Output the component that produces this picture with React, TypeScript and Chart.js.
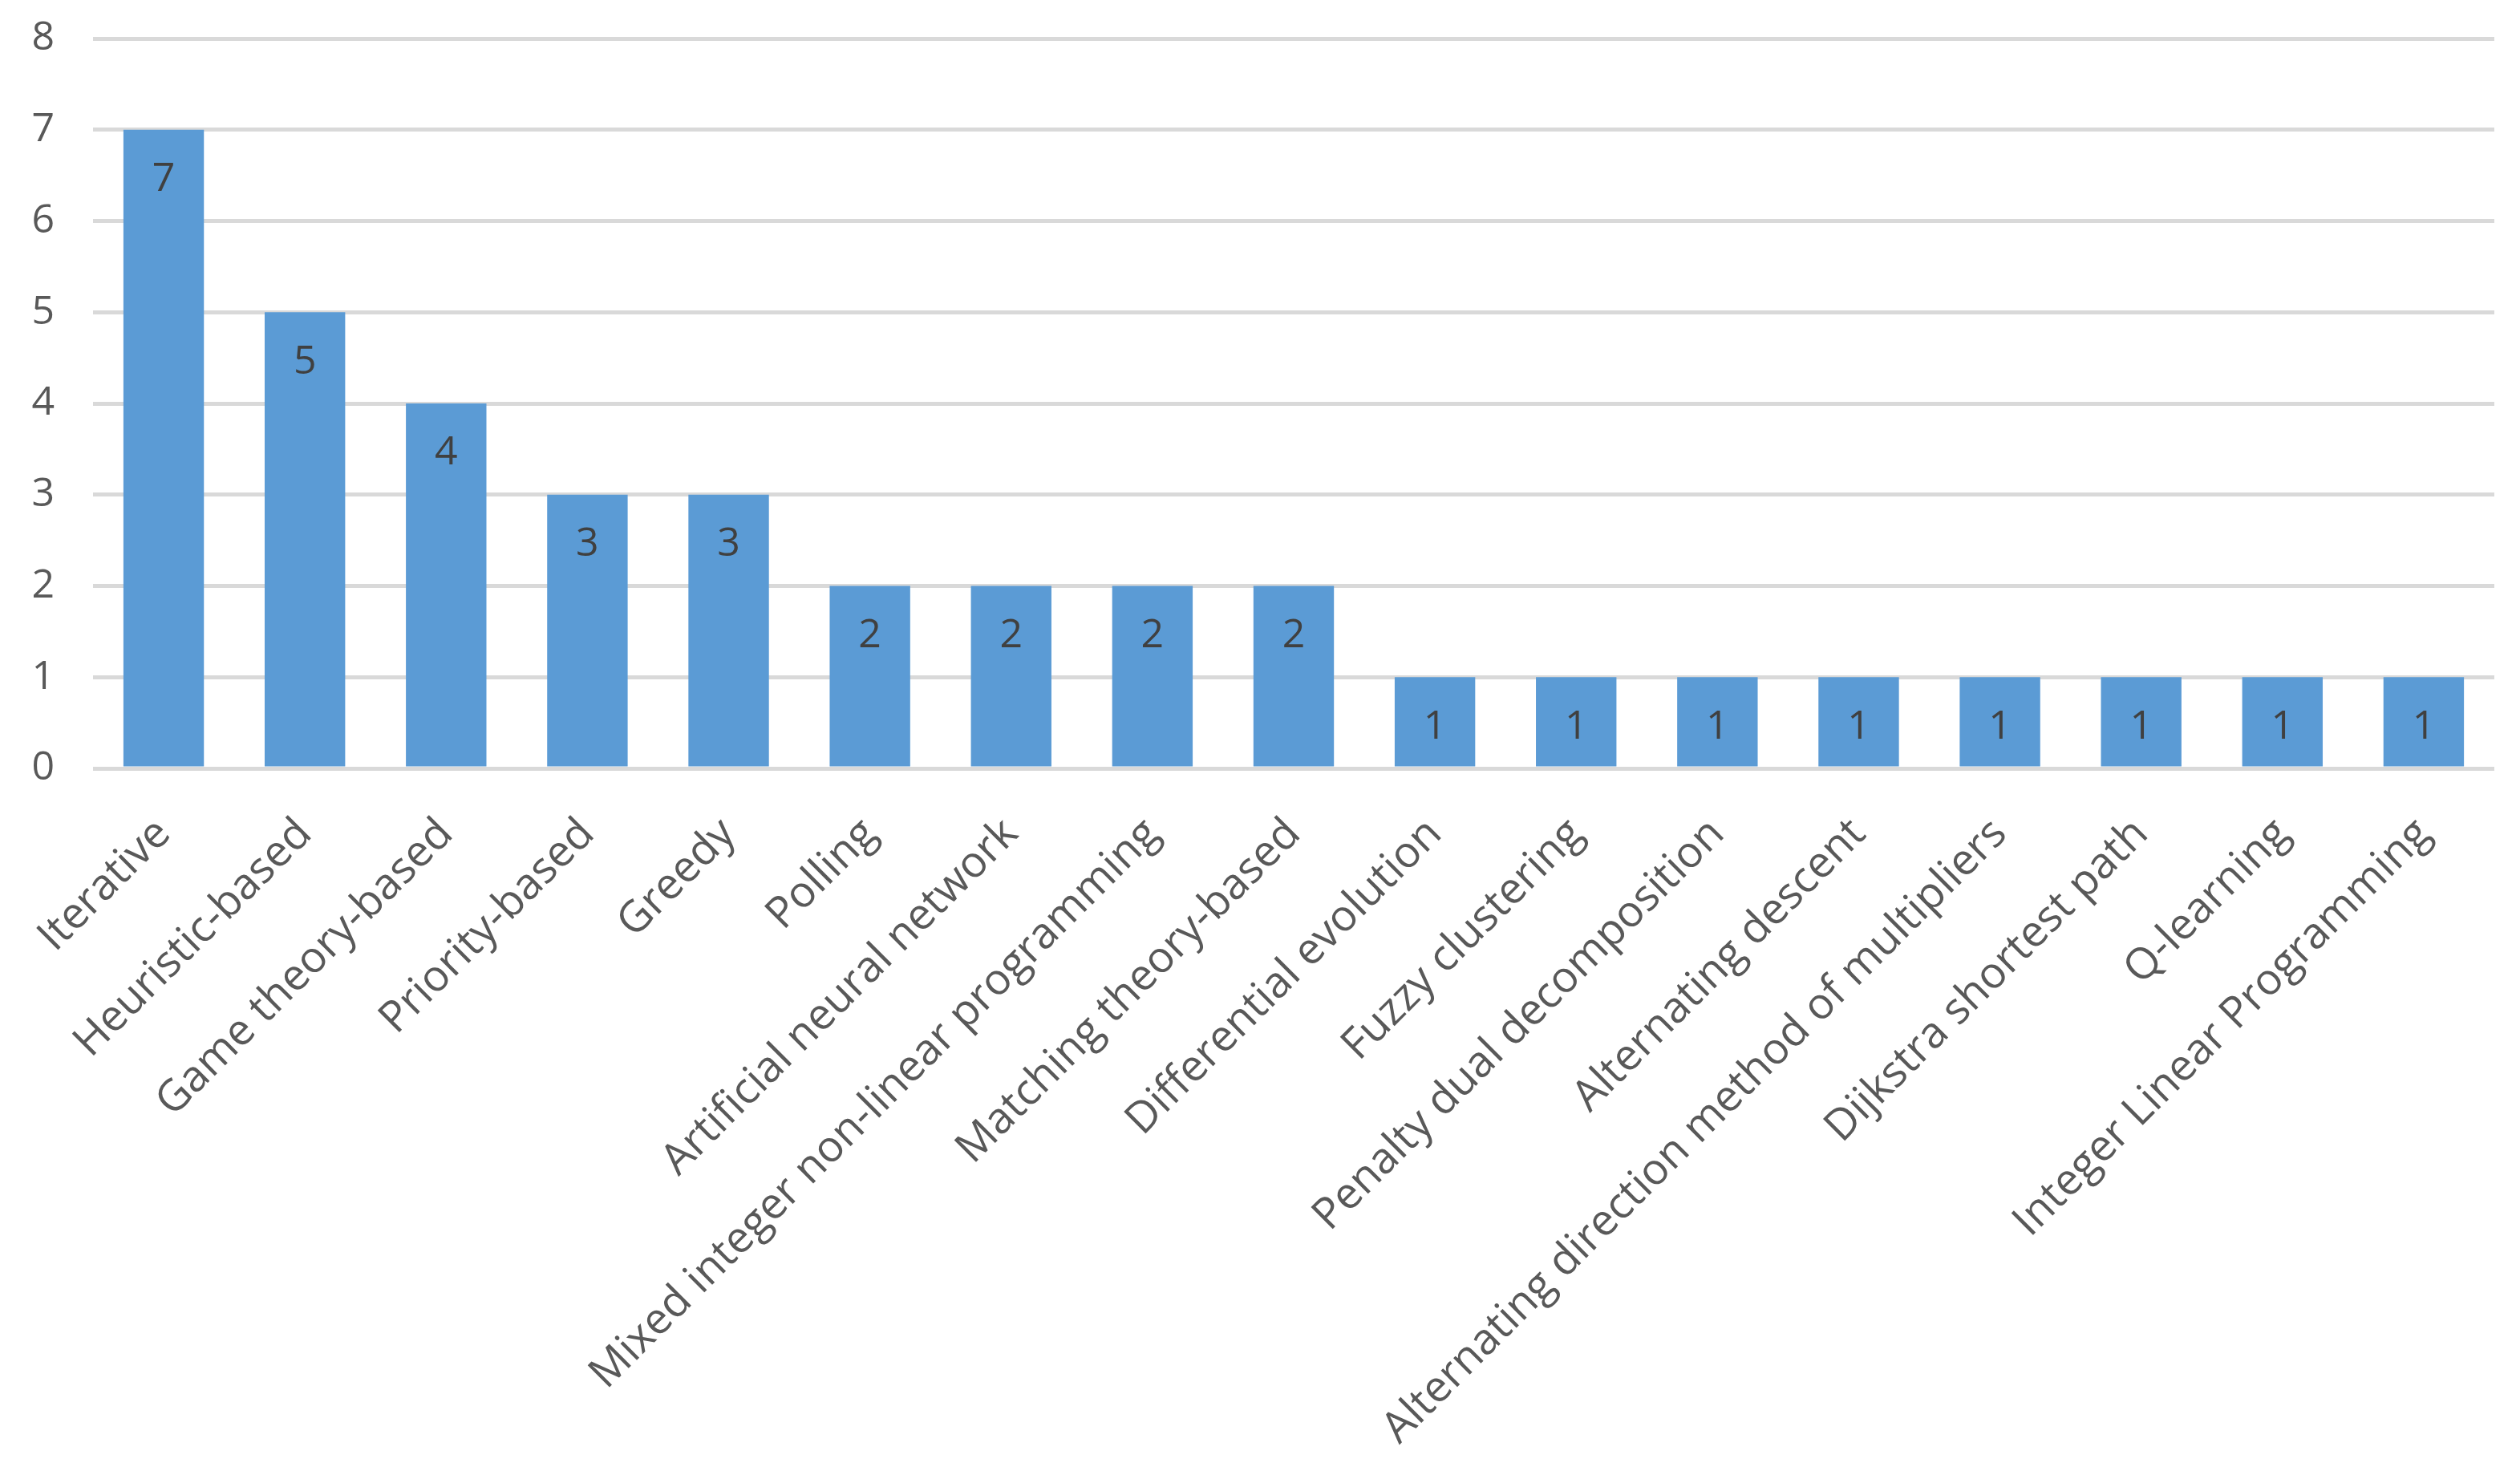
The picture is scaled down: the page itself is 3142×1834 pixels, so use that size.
import React, { useEffect, useRef } from "react";
import { Chart, registerables } from "chart.js";

Chart.register(...registerables);

const categories: string[] = [
  "Iterative",
  "Heuristic-based",
  "Game theory-based",
  "Priority-based",
  "Greedy",
  "Polling",
  "Artificial neural network",
  "Mixed integer non-linear programming",
  "Matching theory-based",
  "Differential evolution",
  "Fuzzy clustering",
  "Penalty dual decomposition",
  "Alternating descent",
  "Alternating direction method of multipliers",
  "Dijkstra shortest path",
  "Q-learning",
  "Integer Linear Programming",
];

const counts: number[] = [7, 5, 4, 3, 3, 2, 2, 2, 2, 1, 1, 1, 1, 1, 1, 1, 1];

const yTicks: number[] = [0, 1, 2, 3, 4, 5, 6, 7, 8];

const FONT = "'Open Sans', 'Noto Sans', sans-serif";

const dataLabelPlugin = {
  id: "barValueLabels",
  afterDatasetsDraw(chart: any) {
    const ctx = chart.ctx;
    const meta = chart.getDatasetMeta(0);
    const ds = chart.data.datasets[0];
    ctx.save();
    ctx.font = `50px ${FONT}`;
    ctx.fillStyle = "#404040";
    ctx.textAlign = "center";
    ctx.textBaseline = "middle";
    meta.data.forEach((bar: any, i: number) => {
      const v = ds.data[i];
      ctx.fillText(String(v), bar.x, bar.y + 62);
    });
    ctx.restore();
  },
};

export default function App() {
  const canvasRef = useRef<HTMLCanvasElement | null>(null);

  useEffect(() => {
    document.body.style.margin = "0";
    const canvas = canvasRef.current;
    if (!canvas) return;
    const chart = new Chart(canvas, {
      type: "bar",
      data: {
        labels: categories,
        datasets: [
          {
            data: counts,
            backgroundColor: "#5B9BD5",
            borderWidth: 0,
            barPercentage: 0.57,
            categoryPercentage: 1,
          },
        ],
      },
      options: {
        animation: false,
        responsive: false,
        maintainAspectRatio: false,
        devicePixelRatio: 1,
        layout: { padding: { top: 48, right: 32, left: 0, bottom: 0 } },
        plugins: {
          legend: { display: false },
          tooltip: { enabled: false },
          title: { display: false },
        },
        scales: {
          x: {
            grid: { display: false, drawTicks: false },
            border: { display: false },
            ticks: {
              color: "#595959",
              font: { family: FONT, size: 54 },
              maxRotation: 45,
              minRotation: 45,
              autoSkip: false,
              padding: 50,
            },
            afterFit(scale: any) {
              scale.height = 1834 - 958;
            },
          },
          y: {
            min: 0,
            max: 8,
            afterBuildTicks(scale: any) {
              scale.ticks = yTicks.map((v) => ({ value: v }));
            },
            grid: { color: "#D9D9D9", lineWidth: 5, drawTicks: false },
            border: { display: false },
            ticks: {
              color: "#595959",
              font: { family: FONT, size: 50 },
              padding: 48,
            },
            afterFit(scale: any) {
              scale.width = 116;
              scale.paddingTop = 0;
              scale.paddingBottom = 0;
            },
          },
        },
      },
      plugins: [dataLabelPlugin],
    });
    return () => chart.destroy();
  }, []);

  return (
    <div style={{ width: 3142, height: 1834, background: "#fff" }}>
      <canvas ref={canvasRef} width={3142} height={1834} style={{ display: "block" }} />
    </div>
  );
}
